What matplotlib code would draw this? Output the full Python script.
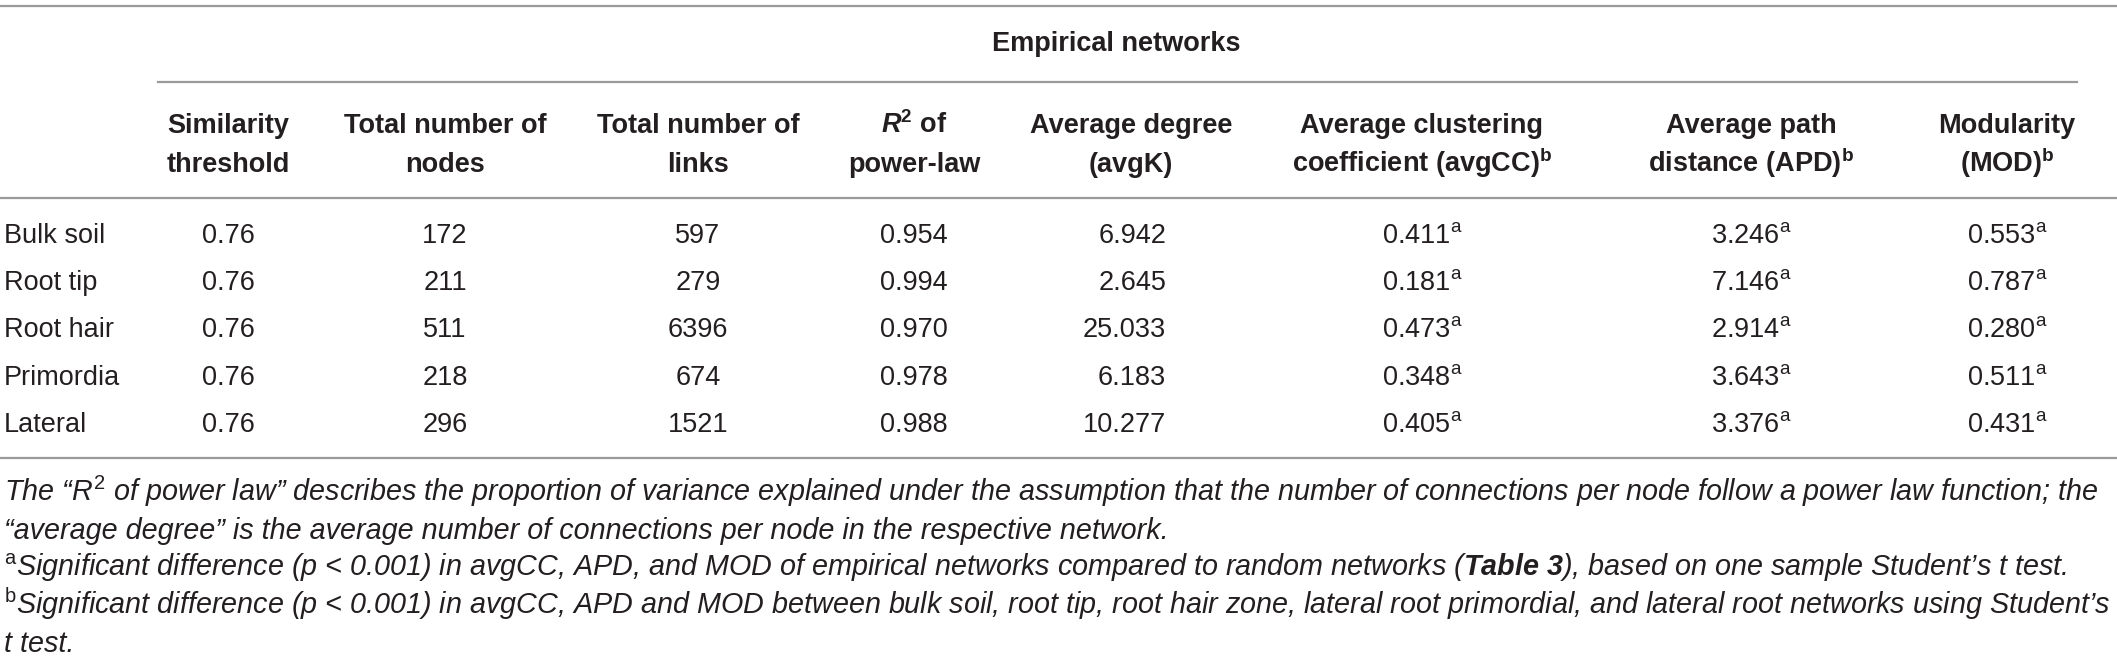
import matplotlib
matplotlib.use("Agg")
import matplotlib.pyplot as plt

plt.rcParams['font.family'] = ['Liberation Sans', 'DejaVu Sans']
plt.rcParams['mathtext.fontset'] = 'custom'
plt.rcParams['mathtext.rm'] = 'Liberation Sans'
plt.rcParams['mathtext.it'] = 'Liberation Sans:italic'
plt.rcParams['mathtext.bf'] = 'Liberation Sans:bold'
plt.rcParams['mathtext.bfit'] = 'Liberation Sans:bold:italic'

# ---- data ----
group_title = "Empirical networks"
row_labels = ["Bulk soil", "Root tip", "Root hair", "Primordia", "Lateral"]
threshold = ["0.76", "0.76", "0.76", "0.76", "0.76"]
nodes = ["172", "211", "511", "218", "296"]
links = ["597", "279", "6396", "674", "1521"]
r2_power = ["0.954", "0.994", "0.970", "0.978", "0.988"]
avg_k = ["6.942", "2.645", "25.033", "6.183", "10.277"]
avg_cc = ["0.411", "0.181", "0.473", "0.348", "0.405"]
apd = ["3.246", "7.146", "2.914", "3.643", "3.376"]
mod = ["0.553", "0.787", "0.280", "0.511", "0.431"]
sig_mark = ["a", "a", "a", "a", "a"]

headers = [
    ("Similarity", "threshold"),
    ("Total number of", "nodes"),
    ("Total number of", "links"),
    ("$\\mathbfit{R}^{\\mathbf{2}}$ of", "power-law"),
    ("Average degree", "(avgK)"),
    ("Average clustering", "coefficient (avgCC)$^{\\mathbf{b}}$"),
    ("Average path", "distance (APD)$^{\\mathbf{b}}$"),
    ("Modularity", "(MOD)$^{\\mathbf{b}}$"),
]

footnotes = [
    "The \u201c$R^{2}$ of power law\u201d describes the proportion of variance explained under the assumption that the number of connections per node follow a power law function; the",
    "\u201caverage degree\u201d is the average number of connections per node in the respective network.",
    "$^{\\mathrm{a}}$Significant difference (p < 0.001) in avgCC, APD, and MOD of empirical networks compared to random networks ($\\mathbfit{Table\\ 3}$), based on one sample Student\u2019s t test.",
    "$^{\\mathrm{b}}$Significant difference (p < 0.001) in avgCC, APD and MOD between bulk soil, root tip, root hair zone, lateral root primordial, and lateral root networks using Student\u2019s",
    "t test.",
]

# ---- layout (pixel coordinates) ----
W, H = 2117, 657
fig = plt.figure(figsize=(W / 100, H / 100), dpi=100)
ax = fig.add_axes([0, 0, 1, 1])
ax.set_xlim(0, W)
ax.set_ylim(H, 0)
ax.axis('off')

TXT = '#231f20'
LINE = '#9a9a9a'
FS = 19.5
FS_FOOT = 20.7

col_x = [228, 445, 698, 914, 1131, 1422, 1751, 2007]
avgk_right = 1166

# rules
ax.plot([0, W], [5.7, 5.7], color=LINE, lw=1.6)
ax.plot([158, 2077], [82.3, 82.3], color=LINE, lw=1.6)
ax.plot([0, W], [197.7, 197.7], color=LINE, lw=1.6)
ax.plot([0, W], [457.7, 457.7], color=LINE, lw=1.6)

ax.text(1116, 50.7, group_title, ha='center', va='baseline', fontsize=FS,
        fontweight='bold', color=TXT)

for x, (h1, h2) in zip(col_x, headers):
    ax.text(x, 132.7, h1, ha='center', va='baseline', fontsize=FS, fontweight='bold', color=TXT)
    ax.text(x, 171.7, h2, ha='center', va='baseline', fontsize=FS, fontweight='bold', color=TXT)

row_base = [242.7, 290.0, 337.3, 384.6, 432.0]
for i, yb in enumerate(row_base):
    ax.text(4, yb, row_labels[i], ha='left', va='baseline', fontsize=FS, color=TXT)
    ax.text(col_x[0], yb, threshold[i], ha='center', va='baseline', fontsize=FS, color=TXT)
    ax.text(col_x[1], yb, nodes[i], ha='center', va='baseline', fontsize=FS, color=TXT)
    ax.text(col_x[2], yb, links[i], ha='center', va='baseline', fontsize=FS, color=TXT)
    ax.text(col_x[3], yb, r2_power[i], ha='center', va='baseline', fontsize=FS, color=TXT)
    ax.text(avgk_right, yb, avg_k[i], ha='right', va='baseline', fontsize=FS, color=TXT)
    for x, vals in zip(col_x[5:], (avg_cc, apd, mod)):
        ax.text(x, yb, vals[i] + "$^{\\mathrm{%s}}$" % sig_mark[i], ha='center',
                va='baseline', fontsize=FS, color=TXT)

foot_base = [501.0, 538.6, 576.5, 614.5, 651.5]
for yb, line in zip(foot_base, footnotes):
    ax.text(4, yb, line, ha='left', va='baseline', fontsize=FS_FOOT, fontstyle='italic', color=TXT)

fig.savefig("out.png", dpi=100, facecolor='white')
